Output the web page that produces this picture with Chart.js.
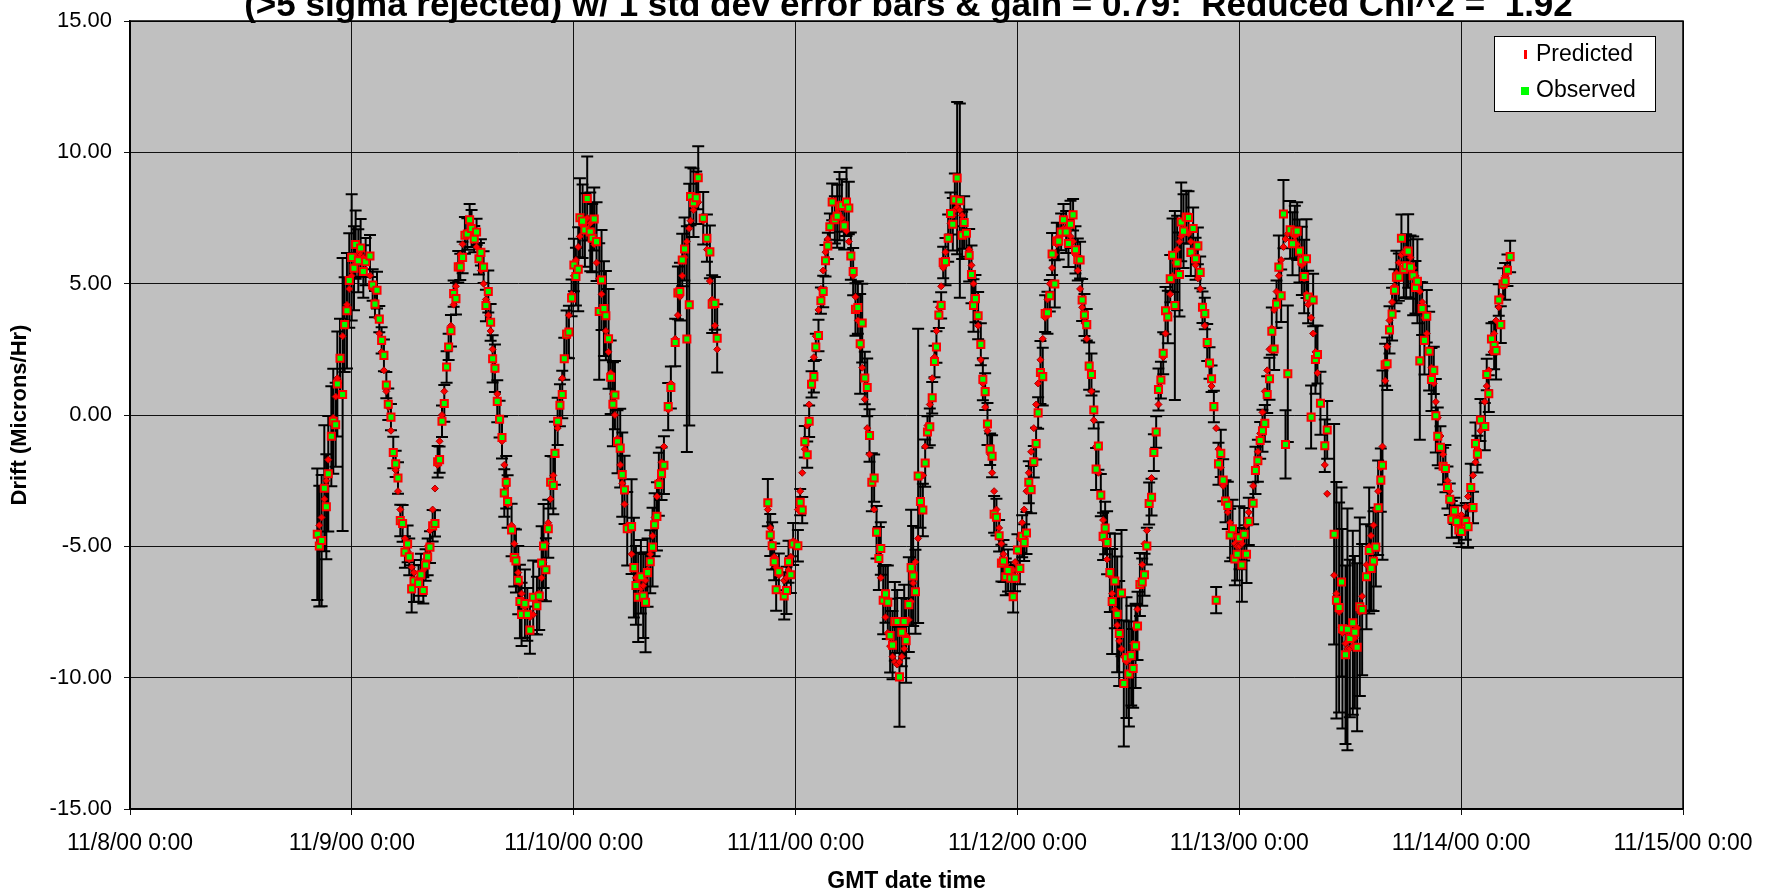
<!DOCTYPE html>
<html>
<head>
<meta charset="utf-8">
<script src="https://cdn.jsdelivr.net/npm/chart.js@4.4.0/dist/chart.umd.min.js"></script>
<style>
  html, body { margin: 0; padding: 0; background: #fff; }
</style>
</head>
<body>
<canvas id="drift" width="1775" height="895"></canvas>
<script>
const chartTitle = '(>5 sigma rejected) w/ 1 std dev error bars & gain = 0.79:  Reduced Chi^2 =  1.92';
const xTitle = 'GMT date time';
const yTitle = 'Drift (Microns/Hr)';
const dayLabels = ['11/8/00 0:00', '11/9/00 0:00', '11/10/00 0:00', '11/11/00 0:00',
  '11/12/00 0:00', '11/13/00 0:00', '11/14/00 0:00', '11/15/00 0:00'];

// hours after 11/8/00 0:00 GMT
const hours = [
  // 11/8 evening - 11/9
  20.26,20.48,20.73,21.02,21.24,21.45,21.78,21.99,22.25,22.43,
  22.72,23.00,23.22,23.47,23.72,23.98,24.23,24.41,24.70,24.95,
  25.24,25.49,25.96,26.25,26.50,26.72,26.97,27.22,27.47,27.73,
  27.94,28.23,28.48,28.74,28.99,29.24,29.49,29.74,30.03,30.21,
  30.47,30.72,31.22,31.47,31.73,31.98,32.20,32.45,32.74,32.99,
  33.28,33.49,33.75,34.00,34.25,34.47,34.72,35.01,35.26,35.51,
  35.73,35.98,36.23,36.49,36.74,36.95,37.24,37.49,37.75,37.96,
  38.25,38.50,38.76,39.01,39.23,39.48,39.73,39.98,40.24,40.49,
  40.70,40.85,
  // 11/9 - 11/10
  41.28,41.57,41.75,42.00,42.18,42.36,42.72,42.98,43.26,43.62,
  44.02,44.27,44.53,44.74,44.99,45.25,45.50,45.79,45.97,46.26,
  46.51,46.76,46.98,47.23,47.48,47.77,48.02,48.24,48.49,48.67,
  48.96,49.21,49.46,49.79,50.00,50.22,50.47,50.76,51.01,51.27,
  51.48,51.77,52.00,52.24,52.46,52.74,53.03,53.25,53.50,53.79,
  54.26,54.51,54.73,54.98,55.27,55.52,55.77,55.99,56.28,56.53,
  56.75,57.00,57.21,57.50,57.76,58.22,58.51,58.98,59.27,59.49,
  59.74,59.99,60.24,60.50,60.64,60.96,61.25,61.47,62.01,62.41,
  62.73,62.98,63.27,63.52,
  // 11/10 night - 11/11
  69.00,69.26,69.47,69.69,69.90,70.19,70.77,71.02,71.24,71.49,
  71.74,72.25,72.50,72.72,73.00,73.26,73.47,73.73,73.98,74.19,
  74.48,74.74,74.99,75.24,75.49,75.71,75.96,76.25,76.50,76.75,
  77.01,77.26,77.51,77.76,77.98,78.23,78.48,78.74,78.99,79.21,
  79.49,79.75,80.00,80.25,80.50,80.76,81.01,81.22,81.48,81.73,
  81.98,82.23,82.49,82.74,82.99,83.24,83.49,83.75,83.96,
  // 11/11 - 11/12
  84.25,84.50,84.72,84.97,85.26,85.51,85.77,86.02,86.27,86.52,
  86.78,87.03,87.24,87.50,87.75,87.97,88.22,88.51,88.76,89.01,
  89.23,89.48,89.77,90.02,90.24,90.49,90.78,91.03,91.25,91.46,
  91.75,92.04,92.26,92.51,92.76,93.05,93.26,93.48,93.73,94.02,
  94.27,94.49,94.74,94.99,95.28,95.54,95.75,96.00,96.26,96.51,
  96.73,96.98,97.23,97.48,97.77,98.02,98.24,98.49,98.74,99.00,
  99.25,99.50,99.75,100.04,100.26,100.47,100.73,100.98,101.27,101.52,
  101.74,102.02,102.28,102.53,102.78,103.00,103.25,103.50,103.76,104.01,
  104.26,104.51,104.76,105.02,105.27,105.49,105.70,
  // 11/12 - 11/13
  106.00,106.25,106.54,106.79,107.01,107.26,107.51,107.80,108.06,108.31,
  108.52,108.78,108.99,109.25,109.50,109.75,110.00,110.25,110.51,110.76,
  111.01,111.26,111.52,111.77,112.02,112.27,112.53,112.78,113.03,113.28,
  113.53,113.72,113.97,114.26,114.51,114.76,115.01,115.27,115.52,115.77,
  116.02,116.27,116.53,116.78,117.00,117.25,117.50,117.75,118.00,118.26,
  118.51,118.76,119.01,119.27,119.52,119.77,120.02,120.28,120.53,120.78,
  121.03,121.50,121.75,122.01,122.26,122.51,122.76,123.02,123.27,123.52,
  123.77,124.03,124.28,124.53,124.78,125.00,125.25,125.50,125.76,126.01,
  126.26,126.51,126.77,127.02,127.27,
  // 11/13 - 11/14
  127.45,127.77,127.99,128.24,128.46,128.78,129.25,129.51,130.26,130.51,
  130.80,131.06,131.16,131.49,131.70,131.96,132.28,132.50,132.75,133.04,
  133.29,133.76,134.05,134.26,134.52,134.77,135.02,135.31,135.49,135.78,
  135.99,136.25,136.53,136.79,137.00,137.26,137.54,137.80,138.05,138.27,
  138.52,138.81,139.06,139.27,139.53,139.78,140.03,140.28,140.54,140.79,
  141.04,141.26,141.47,141.76,142.05,142.30,142.52,142.77,142.99,143.28,
  143.53,143.75,144.03,144.50,144.75,145.04,145.29,145.55,145.76,146.09,
  146.56,146.77,146.99,147.28,147.57,147.78,148.07,148.29,148.54,148.76,
  149.01,149.30
];

// observed drift, microns/hr
const observed = [
  -4.54,-4.99,-4.78,-2.79,-3.49,-2.24,-0.81,-0.24,-0.37,1.18,
  2.16,0.78,3.44,3.97,5.12,6.00,5.59,6.49,5.87,6.36,
  5.46,5.84,6.05,4.95,4.22,4.75,3.65,2.84,2.27,1.14,
  0.41,-0.08,-1.43,-1.86,-2.40,-4.02,-4.13,-5.22,-4.91,-5.40,
  -6.62,-6.32,-6.41,-6.08,-6.68,-5.71,-5.40,-5.03,-4.22,-4.13,
  -1.78,-1.70,-0.24,0.44,1.83,2.59,3.21,4.62,4.43,5.64,
  5.64,6.00,6.84,6.89,7.43,7.10,6.70,6.97,5.95,6.19,
  5.63,4.17,4.70,3.53,2.14,1.78,0.52,-0.16,-0.86,-2.97,
  -2.56,-3.29,

  -4.38,-5.43,-5.56,-6.29,-7.10,-7.59,-7.18,-7.59,-8.19,-6.94,
  -7.26,-6.89,-5.64,-4.99,-5.89,-4.33,-2.56,-2.68,-1.46,-0.24,
  0.37,0.78,2.14,3.08,3.16,4.46,5.71,5.27,5.55,7.51,
  7.38,7.04,8.24,6.97,6.73,7.46,6.60,3.94,5.14,4.05,
  3.78,2.90,1.44,0.41,0.76,-1.02,-1.26,-2.27,-2.85,-4.33,
  -4.25,-5.81,-6.49,-6.94,-6.16,-6.89,-7.13,-6.00,-5.59,-5.03,
  -4.18,-3.86,-2.64,-2.24,-1.91,0.32,1.05,2.76,4.65,4.70,
  5.90,6.32,2.89,4.20,8.32,8.08,8.27,9.03,7.49,6.73,
  6.21,4.22,4.25,2.92,

  -3.34,-4.57,-4.98,-5.59,-6.65,-5.97,-6.89,-6.68,-5.59,-6.08,
  -4.91,-4.98,-3.32,-3.62,-1.02,-1.51,-0.24,1.17,1.46,2.59,
  3.03,4.35,4.70,5.87,6.44,7.17,8.11,7.43,7.57,7.95,
  7.98,7.20,8.11,7.88,6.05,5.46,4.02,4.09,2.71,3.50,
  1.41,1.05,-0.78,-2.56,-2.40,-4.46,-5.46,-5.08,-7.05,-6.81,
  -7.13,-8.40,-8.76,-7.86,-7.86,-9.97,-8.27,-7.86,-8.59,

  -7.22,-5.81,-6.13,-6.73,-2.32,-3.29,-3.62,-1.83,-0.65,-0.45,
  0.66,2.04,2.59,3.81,4.17,5.81,5.84,6.73,7.67,7.26,
  8.19,9.02,8.16,6.84,7.33,6.92,6.08,5.35,4.17,4.43,
  3.78,2.69,1.36,0.89,-0.34,-1.30,-1.57,-3.78,-3.89,-4.60,
  -5.64,-5.56,-6.16,-5.92,-6.21,-6.92,-6.21,-5.14,-5.84,-4.62,
  -4.86,-4.49,-2.56,-2.84,-1.78,-1.09,0.08,1.62,1.46,3.86,
  3.89,4.54,6.13,4.99,6.62,6.62,6.97,7.43,6.97,6.53,
  7.26,7.62,6.29,5.92,5.90,4.38,3.81,3.44,1.86,1.54,
  0.19,-2.06,-1.18,-3.05,-4.62,-4.30,-4.86,

  -6.00,-7.10,-6.32,-7.59,-8.32,-6.78,-10.22,-9.24,-9.86,-9.16,
  -9.65,-8.79,-8.03,-6.45,-6.36,-6.08,-4.99,-3.37,-3.13,-1.43,
  -0.65,0.97,1.33,2.35,3.97,3.73,5.19,6.08,4.17,5.79,
  5.35,7.35,7.00,7.54,7.52,6.19,7.10,5.95,6.44,5.43,
  4.10,3.86,2.76,1.98,1.38,0.32,-7.05,-1.86,-1.46,-2.48,
  -3.28,-3.44,-4.57,-4.33,-5.48,-5.30,-4.67,-5.71,-4.54,-5.30,
  -4.05,-3.36,-2.11,-1.74,-0.97,-0.60,-0.32,0.78,1.38,3.19,
  2.51,4.22,5.63,4.54,7.65,-1.12,1.57,7.05,6.52,6.97,
  7.00,6.24,5.87,5.27,5.95,

  4.49,-0.08,4.38,2.11,2.30,0.45,-1.17,-0.57,-4.54,-7.05,
  -7.33,-6.36,-8.14,-9.13,-8.16,-8.51,-7.91,-8.27,-8.84,-7.30,
  -7.41,-6.16,-5.16,-5.84,-5.56,-5.03,-3.53,-2.48,-1.91,1.91,
  1.95,3.24,3.84,4.75,5.25,5.25,6.73,5.55,5.68,6.24,
  5.63,5.30,4.86,5.09,2.06,4.05,2.84,3.76,2.43,1.35,
  1.70,-0.03,-0.81,-1.23,-1.95,-2.04,-2.76,-3.21,-3.97,-3.65,
  -4.05,-4.38,-4.43,-4.05,-4.25,-2.76,-3.52,-1.09,-1.49,-0.19,
  -0.44,1.54,0.81,2.89,2.64,2.45,4.38,3.44,4.99,5.09,
  5.51,6.03
];

// 1 std dev of each observation
const stdDev = [
  2.5,2.3,2.5,2.4,2.0,2.2,1.9,2.0,1.6,2.0,
  1.5,5.2,1.8,2.2,1.8,2.4,1.6,1.3,1.2,1.1,
  1.0,0.9,0.8,0.6,0.5,0.7,0.5,0.5,0.6,0.5,
  0.6,0.5,0.6,0.5,0.6,0.6,0.7,0.6,0.7,0.7,
  0.9,0.8,0.7,0.8,0.5,0.6,0.7,0.6,0.6,0.5,
  0.6,0.5,0.6,0.7,0.6,0.5,0.6,0.5,0.6,0.6,
  0.5,0.6,0.7,0.6,0.6,0.7,0.5,0.5,0.6,0.5,
  0.6,0.6,0.8,0.7,0.9,0.9,0.8,0.7,0.8,0.9,
  1.0,1.0,

  1.0,1.1,1.2,1.3,1.4,1.2,1.3,1.0,0.9,1.4,
  1.1,1.3,1.4,1.6,1.2,1.1,1.0,1.1,1.2,0.9,
  0.8,0.9,0.8,0.9,1.0,0.7,1.0,1.1,1.6,1.5,
  1.4,1.4,1.6,1.5,1.3,1.2,1.5,2.6,1.9,1.8,
  1.7,1.9,1.4,1.6,1.3,1.2,1.5,1.6,1.3,1.4,
  1.8,1.9,1.5,1.7,1.4,1.6,1.9,1.3,1.2,1.5,
  1.2,1.3,1.2,1.0,1.1,0.9,0.8,0.9,1.0,1.1,
  1.0,1.2,4.3,4.6,1.1,1.3,1.0,1.2,1.0,0.9,
  1.0,1.1,1.0,1.3,

  0.9,0.8,0.9,0.7,0.8,0.7,0.9,0.9,0.8,0.7,
  0.8,0.6,0.5,0.5,0.6,0.5,0.6,0.5,0.6,0.5,
  0.6,0.5,0.6,0.6,0.5,0.5,0.7,0.9,1.2,1.3,
  1.0,0.9,1.3,1.0,0.9,0.9,1.0,1.0,1.9,1.5,
  1.0,1.1,1.0,1.1,0.9,1.0,1.2,1.0,1.3,1.1,
  1.4,1.4,1.3,1.5,1.2,1.9,1.3,1.4,1.6,

  1.8,2.2,1.9,1.6,5.6,1.0,1.0,0.9,0.6,0.7,
  0.6,0.6,0.6,0.5,0.5,0.6,0.9,0.9,0.8,1.0,
  1.0,2.9,3.7,0.9,1.0,0.9,1.0,1.1,1.0,0.9,
  0.9,0.8,0.8,0.7,0.8,0.6,0.8,0.7,0.7,0.6,
  0.7,0.8,0.7,0.8,0.6,0.6,0.5,0.6,0.6,0.8,
  0.7,0.8,0.8,0.9,0.6,0.6,0.6,1.2,1.1,0.7,
  0.8,0.6,0.8,0.9,0.7,0.7,0.7,0.6,0.8,0.9,
  0.9,0.6,0.9,0.8,0.7,0.8,0.8,0.6,0.9,0.8,
  0.7,0.8,0.9,0.8,0.9,1.0,1.2,

  1.5,2.0,1.8,2.2,2.0,2.4,2.4,2.3,2.0,1.9,
  1.5,1.6,1.3,1.2,0.9,0.8,0.7,0.8,0.7,0.7,
  0.6,0.8,0.7,0.8,0.9,1.0,0.9,1.4,3.6,1.8,
  1.6,1.5,1.4,1.0,1.0,0.9,0.8,0.8,0.7,0.6,
  0.6,0.6,0.7,0.6,0.5,0.6,0.5,0.8,0.9,0.8,
  0.8,0.9,1.0,1.1,1.0,1.0,1.2,1.4,1.0,1.1,
  0.9,0.8,0.9,0.8,0.7,0.8,0.7,0.7,0.8,0.9,
  0.8,0.9,1.2,1.0,1.3,1.3,2.6,1.1,1.2,1.0,
  1.1,1.2,1.3,1.4,1.5,

  1.0,1.2,1.0,1.3,1.1,1.2,1.0,1.1,4.2,4.5,
  4.0,3.6,3.8,3.4,4.6,3.0,3.5,2.9,3.2,3.4,
  2.5,2.0,2.4,1.6,1.9,1.5,1.8,1.2,3.6,0.8,
  1.0,0.9,1.0,0.8,1.0,0.9,0.9,1.1,1.2,1.4,
  1.2,1.5,1.0,1.6,3.0,1.0,1.3,1.0,1.5,1.2,
  0.9,1.4,1.1,0.8,0.7,0.9,0.8,0.6,0.7,0.5,
  0.6,0.5,0.6,0.7,0.8,0.9,0.6,0.8,0.7,0.8,
  0.9,0.6,0.7,0.6,0.9,1.1,0.6,0.7,0.6,0.7,
  0.6,0.6
];

// model prediction at the same times
const predicted = [
  -4.6,-4.2,-3.9,-3.2,-2.5,-1.7,-0.8,-0.1,0.7,1.4,
  2.2,3.0,3.5,4.2,4.8,5.3,5.7,6.0,6.1,6.1,
  6.0,5.8,5.3,4.8,4.3,3.7,3.1,2.4,1.7,0.9,
  0.3,-0.6,-1.4,-2.1,-2.9,-3.6,-4.2,-4.7,-5.2,-5.5,
  -5.8,-6.0,-6.2,-6.1,-5.9,-5.5,-5.0,-4.4,-3.6,-2.8,
  -1.9,-1.0,0.0,0.9,1.8,2.6,3.4,4.2,4.9,5.6,
  6.1,6.5,6.8,7.0,7.0,6.9,6.7,6.4,6.0,5.5,
  5.0,4.4,3.8,3.2,2.5,1.7,0.8,-0.1,-1.0,-1.9,
  -2.7,-3.4,

  -4.2,-4.9,-5.4,-6.0,-6.4,-6.8,-7.3,-7.6,-7.7,-7.6,
  -7.2,-6.8,-6.2,-5.6,-4.9,-4.1,-3.2,-2.3,-1.5,-0.5,
  0.4,1.4,2.1,3.0,3.8,4.6,5.3,5.9,6.4,6.8,
  7.2,7.4,7.5,7.3,7.0,6.5,5.8,5.2,4.6,3.9,
  3.2,2.4,1.6,0.8,0.0,-0.9,-1.9,-2.6,-3.4,-4.2,
  -5.3,-5.8,-6.2,-6.5,-6.6,-6.5,-6.3,-5.9,-5.3,-4.6,
  -3.9,-3.1,-2.5,-1.8,-1.2,0.2,1.2,2.9,3.8,4.5,
  5.3,6.0,6.6,7.1,7.4,7.8,8.0,8.1,7.4,6.3,
  5.1,4.4,3.4,2.5,

  -3.6,-4.3,-4.9,-5.4,-5.8,-6.1,-6.3,-6.2,-5.9,-5.4,
  -4.8,-3.6,-2.9,-2.2,-1.3,-0.4,0.4,1.3,2.2,3.0,
  4.0,4.8,5.5,6.2,6.7,7.1,7.4,7.6,7.7,7.6,
  7.5,7.3,7.0,6.6,6.0,5.3,4.5,3.6,2.6,1.8,
  0.6,-0.5,-1.5,-2.6,-3.6,-4.5,-5.4,-6.2,-7.0,-7.7,
  -8.3,-8.8,-9.2,-9.4,-9.5,-9.4,-9.2,-8.9,-8.4,

  -7.8,-7.1,-6.4,-5.6,-4.7,-3.4,-2.3,-1.2,-0.4,0.4,
  1.4,2.2,3.2,4.1,4.9,5.6,6.2,6.8,7.3,7.6,
  7.8,7.9,7.8,7.6,7.3,6.9,6.3,5.7,5.0,4.3,
  3.4,2.1,1.2,0.3,-0.6,-1.5,-2.2,-2.9,-3.6,-4.3,
  -4.9,-5.3,-5.7,-5.9,-6.0,-5.9,-5.6,-5.2,-4.7,-4.1,
  -3.6,-2.9,-2.2,-1.4,-0.5,0.4,1.2,2.1,2.9,3.7,
  4.4,5.0,5.6,6.1,6.5,6.8,7.0,7.1,7.1,7.0,
  6.8,6.6,6.1,5.5,4.8,4.1,3.5,2.9,1.9,0.9,
  -0.2,-1.2,-2.2,-3.1,-4.0,-4.8,-5.5,

  -6.1,-6.8,-7.4,-8.0,-8.6,-8.9,-9.2,-9.4,-9.3,-9.1,
  -8.7,-8.1,-7.4,-6.5,-5.7,-4.9,-4.4,-3.4,-2.4,-1.5,
  -0.6,0.4,1.3,2.2,3.1,3.9,4.6,5.3,5.8,6.3,
  6.6,6.8,7.0,7.0,6.9,6.6,6.2,5.7,5.2,4.8,
  4.1,3.4,2.7,1.9,1.1,0.3,-0.5,-1.3,-2.0,-2.7,
  -3.3,-3.7,-4.1,-4.6,-4.9,-5.0,-5.0,-4.9,-4.6,-4.2,
  -3.7,-2.7,-2.0,-1.4,-0.7,0.1,0.9,1.7,2.5,3.3,
  4.0,4.7,5.3,5.9,6.4,6.7,6.9,7.0,6.9,6.8,
  6.5,6.2,5.7,5.2,4.6,

  4.2,3.7,3.1,2.4,1.6,0.5,-1.9,-3.0,-6.1,-6.8,
  -7.5,-8.1,-8.3,-8.7,-8.9,-8.9,-8.8,-8.5,-8.1,-7.5,
  -6.9,-5.7,-5.0,-4.6,-4.2,-3.6,-2.9,-2.0,-1.2,1.3,
  2.6,3.6,4.3,4.9,5.4,5.8,6.1,6.2,6.3,6.2,
  6.0,5.6,5.3,5.0,4.7,4.3,3.7,3.1,2.4,1.8,
  1.2,0.5,-0.1,-0.8,-1.5,-2.0,-2.5,-2.9,-3.3,-3.6,
  -3.8,-3.9,-3.8,-3.5,-3.1,-2.7,-2.3,-1.8,-1.3,-0.6,
  0.5,1.1,1.7,2.4,3.1,3.6,4.1,4.5,4.9,5.3,
  5.6,6.0
];

const FONT = '"Liberation Sans", Arial, sans-serif';

// grey plot area + white page
const plotBackground = {
  id: 'plotBackground',
  beforeDraw(chart) {
    const { ctx, chartArea: a } = chart;
    ctx.save();
    ctx.fillStyle = '#ffffff';
    ctx.fillRect(0, 0, chart.width, chart.height);
    ctx.fillStyle = '#c0c0c0';
    ctx.fillRect(a.left, a.top, a.right - a.left, a.bottom - a.top);
    ctx.restore();
  },
  afterDraw(chart) {
    const { ctx, chartArea: a } = chart;
    ctx.save();
    ctx.strokeStyle = '#000';
    ctx.lineWidth = 1.5;
    ctx.strokeRect(a.left, a.top, a.right - a.left, a.bottom - a.top);
    ctx.restore();
  }
};

// +/- 1 std dev error bars on the observed points
const errorBars = {
  id: 'errorBars',
  beforeDatasetsDraw(chart) {
    const { ctx, chartArea: a, scales: { x, y } } = chart;
    ctx.save();
    ctx.beginPath();
    ctx.rect(a.left, a.top, a.right - a.left, a.bottom - a.top);
    ctx.clip();
    ctx.strokeStyle = '#000';
    ctx.lineWidth = 2;
    ctx.beginPath();
    for (let i = 0; i < hours.length; i++) {
      const px = x.getPixelForValue(hours[i]);
      const top = y.getPixelForValue(observed[i] + stdDev[i]);
      const bot = y.getPixelForValue(observed[i] - stdDev[i]);
      ctx.moveTo(px, top); ctx.lineTo(px, bot);
      ctx.moveTo(px - 6, top); ctx.lineTo(px + 6, top);
      ctx.moveTo(px - 6, bot); ctx.lineTo(px + 6, bot);
    }
    ctx.stroke();
    ctx.restore();
  }
};

// title sits partly above the canvas, like the original
const topTitle = {
  id: 'topTitle',
  afterDraw(chart) {
    const { ctx, chartArea: a } = chart;
    ctx.save();
    ctx.font = 'bold 35px ' + FONT;
    ctx.fillStyle = '#000';
    ctx.textAlign = 'center';
    ctx.textBaseline = 'alphabetic';
    ctx.fillText(chartTitle, (a.left + a.right) / 2 + 2, 16);
    ctx.restore();
  }
};

// boxed legend in the top right corner of the plot
const boxLegend = {
  id: 'boxLegend',
  afterDraw(chart) {
    const { ctx, chartArea: a } = chart;
    const sets = chart.data.datasets;
    const w = 161, h = 75;
    const left = a.right - 28 - w, top = a.top + 15;
    ctx.save();
    ctx.fillStyle = '#fff';
    ctx.fillRect(left, top, w, h);
    ctx.strokeStyle = '#000';
    ctx.lineWidth = 1;
    ctx.strokeRect(left + 0.5, top + 0.5, w, h);
    ctx.font = '23px ' + FONT;
    ctx.textBaseline = 'middle';
    // Predicted
    ctx.fillStyle = '#ff0000';
    ctx.fillRect(left + 30, top + 14, 3, 9);
    ctx.fillStyle = '#000';
    ctx.fillText(sets[1].label, left + 42, top + 19);
    // Observed
    ctx.fillStyle = '#00ff00';
    ctx.fillRect(left + 27, top + 51, 8, 8);
    ctx.fillStyle = '#000';
    ctx.fillText(sets[0].label, left + 42, top + 55);
    ctx.restore();
  }
};

new Chart(document.getElementById('drift'), {
  type: 'scatter',
  data: {
    datasets: [
      {
        label: 'Observed',
        data: hours.map((h, i) => ({ x: h, y: observed[i] })),
        pointStyle: 'rect',
        pointRadius: 5,
        pointBackgroundColor: '#00ff00',
        pointBorderColor: '#ff0000',
        pointBorderWidth: 2,
        order: 0
      },
      {
        label: 'Predicted',
        data: hours.map((h, i) => ({ x: h, y: predicted[i] })),
        pointStyle: 'rectRot',
        pointRadius: 3.5,
        pointBackgroundColor: '#ff0000',
        pointBorderColor: '#a00000',
        pointBorderWidth: 1,
        order: 1
      }
    ]
  },
  options: {
    responsive: false,
    animation: false,
    devicePixelRatio: 1,
    events: [],
    layout: { padding: { top: 21, right: 92, left: 0, bottom: 0 } },
    plugins: { legend: { display: false }, tooltip: { enabled: false } },
    scales: {
      x: {
        type: 'linear',
        min: 0,
        max: 168,
        afterFit(scale) {
          scale.height = 86;
          scale.paddingLeft = 0;
          scale.paddingRight = 0;
        },
        ticks: {
          stepSize: 24,
          autoSkip: false,
          maxRotation: 0,
          padding: 15,
          color: '#000',
          font: { family: FONT, size: 23 },
          callback: v => dayLabels[v / 24]
        },
        grid: { color: '#111', lineWidth: 1, tickLength: 6 },
        border: { color: '#000', width: 1.5 },
        title: {
          display: true,
          text: xTitle,
          color: '#000',
          font: { family: FONT, size: 23, weight: 'bold' },
          padding: { top: 0, bottom: 0 }
        }
      },
      y: {
        min: -15,
        max: 15,
        afterFit(scale) {
          scale.width = 130;
          scale.paddingTop = 0;
          scale.paddingBottom = 0;
        },
        ticks: {
          stepSize: 5,
          padding: 12,
          color: '#000',
          font: { family: FONT, size: 22 },
          callback: v => v.toFixed(2)
        },
        grid: { color: '#111', lineWidth: 1, tickLength: 6 },
        border: { color: '#000', width: 1.5 },
        title: {
          display: true,
          text: yTitle,
          color: '#000',
          font: { family: FONT, size: 22, weight: 'bold' },
          padding: { top: 7, bottom: 0 }
        }
      }
    }
  },
  plugins: [plotBackground, errorBars, topTitle, boxLegend]
});
</script>
</body>
</html>
